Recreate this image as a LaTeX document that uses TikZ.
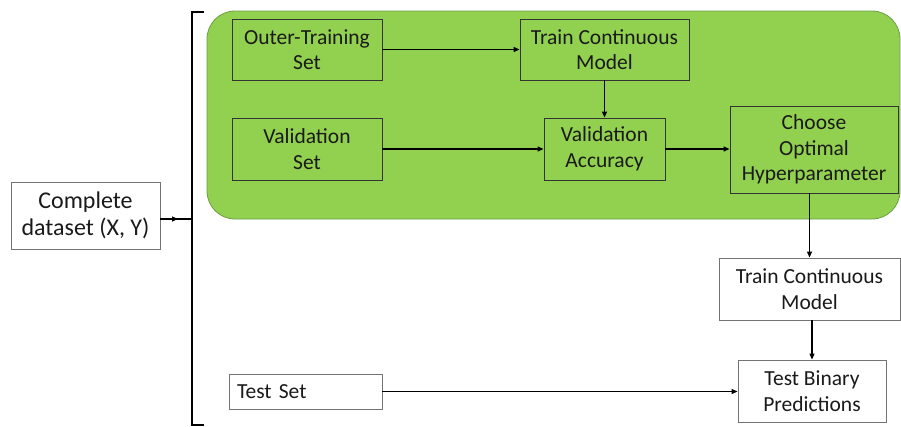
\documentclass[tikz,border=0pt]{standalone}
\usepackage{fontspec}
\setmainfont{Carlito}
\usetikzlibrary{arrows.meta}
\definecolor{grn}{HTML}{92D050}
\definecolor{grnedge}{HTML}{6E9E45}
\definecolor{txt}{HTML}{1A1A1A}
\tikzset{
  box/.style={draw=black!80, line width=0.9pt, align=center, inner sep=0pt,
    font=\fontsize{21.5}{25.5}\selectfont, text=txt},
  wbox/.style={box, draw=black!55, fill=white},
  arr/.style={line width=1.2pt, -{Triangle[length=6pt,width=5pt]}},
}
\begin{document}
\begin{tikzpicture}[x=1pt,y=-1pt]
\useasboundingbox (0,0) rectangle (901,426);
% green region
\draw[fill=grn, draw=grnedge, line width=0.8pt, rounded corners=28pt] (207,11) rectangle (900,219);
% nodes
\node[wbox, minimum width=149, minimum height=67, font=\fontsize{24}{26.5}\selectfont] (comp) at (85.5,215.5) {Complete\\dataset (X, Y)};
\node[box, minimum width=150, minimum height=61] (otr) at (307,49.5) {Outer-Training\\Set};
\node[box, minimum width=150, minimum height=62] (val) at (307,149) {Validation\\Set};
\node[wbox, minimum width=153, minimum height=35, text width=137, align=left] (test) at (305.5,391.5) {Test Set};
\node[box, minimum width=169, minimum height=61] (tcm1) at (604.5,49.5) {Train Continuous\\Model};
\node[box, minimum width=121, minimum height=62] (vacc) at (604.5,149) {Validation\\Accuracy};
\node[box, minimum width=168, minimum height=87] (choose) at (814,149.5) {Choose\\Optimal\\Hyperparameter};
\node[wbox, minimum width=181, minimum height=62] (tcm2) at (809.5,289) {Train Continuous\\Model};
\node[wbox, minimum width=148, minimum height=62] (tbp) at (812,391) {Test Binary\\Predictions};
% bracket
\coordinate (btop) at (204,12);
\coordinate (bbot) at (204,425);
\coordinate (bmid) at (192,219);
\draw[line width=2pt] (btop) -- (btop -| bmid) -- (bbot -| bmid) -- (bbot);
\draw[arr] (comp.east |- bmid) -- ([xshift=-14]bmid);
\draw[line width=2.2pt] ([xshift=-16]bmid) -- (bmid);
% arrows
\draw[arr] (otr.east) -- (tcm1.west);
\draw[arr] (tcm1.south) -- (vacc.north);
\draw[arr] (val.east) -- (vacc.west);
\draw[arr] (vacc.east) -- (choose.west |- vacc.east);
\draw[arr] (choose.south -| tcm2.north) -- (tcm2.north);
\draw[arr] (tcm2.south -| tbp.north) -- (tbp.north);
\draw[arr] (test.east) -- (tbp.west |- test.east);
\end{tikzpicture}
\end{document}
